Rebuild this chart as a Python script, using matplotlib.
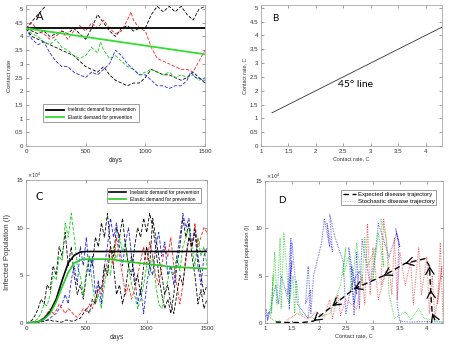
import numpy as np
import matplotlib
matplotlib.use("Agg")
import matplotlib.pyplot as plt

plt.rcParams['font.family'] = ['Liberation Sans', 'DejaVu Sans']

# ---- panel A: contact rate paths (days, contact rate)
a_black1_days = [0, 50, 100, 150, 200, 250]
a_black1 = [4.3, 4.55, 4.8, 5.05, 5.3, 5.5]
a_black2_days = [0, 50, 100, 150, 200, 250, 300, 350, 400, 450, 500, 550, 600, 650, 700, 750,
                 800, 850, 900, 950, 1000, 1050, 1100, 1150, 1200, 1250, 1300, 1350, 1400, 1450, 1500]
a_black2 = [4.3, 4.2, 4.1, 4.2, 4.0, 4.1, 4.2, 4.1, 4.3, 4.1, 3.9, 4.3, 4.8, 4.5, 4.2, 4.0,
            4.3, 4.4, 4.2, 4.3, 4.3, 4.8, 5.1, 4.9, 5.1, 4.9, 5.1, 4.8, 4.6, 5.0, 5.1]
a_black3_days = a_black2_days
a_black3 = [4.3, 4.0, 3.9, 3.8, 3.7, 3.6, 3.5, 3.4, 3.3, 3.1, 2.9, 2.8, 2.7, 2.9, 2.6, 2.4,
            2.3, 2.2, 2.3, 2.3, 2.5, 2.8, 2.7, 2.6, 2.6, 2.5, 2.4, 2.5, 2.7, 2.5, 2.3]
a_red_days = [0, 50, 100, 150, 200, 250, 300, 350, 400, 450, 500, 550, 600, 650, 700, 750, 800,
              850, 880, 900, 950, 1000, 1050, 1100, 1150, 1200, 1250, 1300, 1350, 1400, 1450, 1500]
a_red = [4.3, 4.5, 4.2, 4.1, 3.9, 4.0, 4.2, 3.9, 4.2, 4.4, 4.2, 4.5, 4.3, 4.6, 4.3, 4.1, 4.2,
         4.6, 4.9, 4.6, 4.3, 4.2, 3.6, 3.2, 3.1, 3.0, 2.9, 2.8, 2.8, 2.7, 3.1, 3.5]
a_green_days = [0, 50, 100, 150, 200, 250, 300, 350, 400, 450, 500, 550, 600, 625, 650, 700, 750,
                800, 850, 900, 950, 1000, 1050, 1100, 1150, 1200, 1250, 1300, 1350, 1400, 1450, 1500]
a_green = [4.3, 4.1, 4.0, 3.8, 3.7, 3.9, 3.6, 3.5, 3.3, 3.2, 3.3, 3.6, 3.4, 3.8, 3.5, 3.2, 3.3,
           3.1, 2.9, 2.8, 2.6, 2.7, 2.8, 2.7, 2.6, 2.7, 2.5, 2.6, 2.5, 2.6, 2.4, 2.5]
a_blue_days = [0, 50, 100, 150, 200, 250, 300, 350, 400, 450, 500, 550, 600, 650, 700, 750, 800,
               850, 900, 950, 1000, 1050, 1100, 1150, 1200, 1250, 1300, 1350, 1380, 1420, 1500]
a_blue = [4.3, 3.9, 3.7, 3.8, 3.4, 3.1, 2.9, 2.9, 2.7, 2.6, 2.5, 2.7, 2.6, 2.8, 3.0, 3.5, 3.3,
          3.0, 2.8, 2.6, 2.6, 2.4, 2.2, 2.2, 2.1, 2.2, 2.2, 2.4, 2.7, 2.5, 2.4]
inelastic_days = [0, 1500]
inelastic_c = [4.3, 4.3]
elastic_days = [0, 1500]
elastic_c = [4.3, 3.35]

# ---- panel B
b_line = [1.2, 4.3]

# ---- panel C: infected population (x 10^4)
c_days = list(range(0, 1501, 25))
c_black1 = [0, 0.1, 0.3, 0.8, 1.5, 2.5, 2, 4, 3.5, 6, 5, 8, 7, 9.5, 6, 8, 5, 3, 4, 2.5, 5,
            7, 6, 9, 8, 10.5, 9, 11.5, 8, 6, 3, 4, 2, 3.5, 6, 5, 8, 10, 9, 11, 9.5,
            11.5, 10, 8, 5, 3, 1.5, 2.5, 1, 3, 6, 8, 11, 9, 10.5, 7, 5, 2, 3.5, 1.5, 2.5]
c_black2 = [0, 0, 0, 0.1, 0.1, 0.2, 0.2, 0.3, 0.3, 0.2, 0.2, 0.1, 0.1, 0.3, 0.3, 0.2, 0.2, 0.4, 0.5, 1, 1.5,
            1, 2.5, 2, 4, 3.5, 6, 5, 8, 7, 10, 9, 11, 8, 6, 7, 4, 5, 3, 6, 8,
            6, 11, 9, 7, 5, 3, 4, 2, 1, 3, 5, 4, 7, 9, 8, 10, 7, 5, 3, 4]
c_green = [0, 0, 0, 0.2, 0.5, 1, 2, 1.8, 3, 5, 4.5, 7, 6.5, 10.5, 9, 11.5, 9, 6, 5, 3, 5.5,
           7, 4, 2, 3, 1.5, 4, 6, 5, 8, 6.5, 9, 7.5, 8.5, 6, 4, 3, 1.5, 2.5, 4, 6,
           5, 7, 4, 2, 1.5, 3, 4.5, 6, 5, 7, 5.5, 8, 9, 10, 8, 6, 9, 7, 8, 6]
c_blue = [0, 0, 0, 0, 0, 0.1, 0.2, 0.3, 0.5, 0.8, 1, 1.5, 2, 3, 2, 4.5, 6, 4, 8, 6, 9,
          5, 7, 3, 4.5, 2, 6, 8, 11, 9, 10.5, 8, 6, 8.5, 10, 7, 5, 2, 3.5, 1, 4,
          6, 5, 8, 9.5, 7, 8.5, 5, 6, 4, 7, 9, 11.5, 10, 11, 8, 9.5, 6, 4, 7, 8]
c_red = [0, 0, 0, 0, 0, 0.2, 0.5, 1, 1.5, 1, 1.3, 2, 1.5, 1, 1.5, 1.2, 0.8, 0.6, 1, 1.5, 1.2,
         2, 1.5, 2.5, 3.5, 3, 5, 6.5, 8, 6, 9, 7, 5, 3, 4, 2.5, 3.5, 5, 6.5, 8, 6,
         8.5, 7, 5, 4, 6, 8, 7, 9, 6, 4, 2, 4, 6.5, 9, 8, 10.5, 8, 9, 10, 9.5]
c_inelastic_days = [0, 100, 150, 200, 250, 300, 350, 400, 450, 500, 1500]
c_inelastic = [0, 0.1, 0.5, 1.2, 2.5, 4.5, 6.3, 7.1, 7.45, 7.5, 7.5]
c_elastic_days = [0, 100, 150, 200, 250, 300, 350, 400, 450, 500, 700, 800, 1000, 1200, 1350, 1500]
c_elastic = [0, 0.1, 0.4, 1.0, 2.2, 3.8, 5.3, 6.3, 6.6, 6.7, 6.7, 6.5, 6.2, 5.9, 5.8, 5.7]

# ---- panel D: (contact rate, infected x 10^4)
d_exp_c = [4.15, 4.1, 4.07, 4.05, 3.97, 3.6, 3.2, 2.65, 2.25, 1.9, 1.7, 1.45, 1.2]
d_exp_i = [0.3, 1.0, 3.5, 6.0, 6.8, 6.3, 5.0, 3.6, 1.8, 0.2, 0.05, 0.05, 0.1]
d_arrow_idx = [1, 2, 3, 5, 6, 7, 8, 9]
d_blue_c = [4.3, 4.0, 3.7, 3.5, 3.45, 3.48, 3.42, 3.5, 3.44, 3.3, 3.1, 3.05, 2.95, 2.8, 2.75,
            2.7, 2.65, 2.6, 2.7, 2.55, 2.65, 2.75, 2.6, 2.5, 2.45, 2.3, 2.2, 2.25, 2.15, 2.2,
            2.1, 2.05, 1.9, 1.85, 1.8, 1.75, 1.85, 1.8, 1.6, 1.5, 1.45, 1.48, 1.42, 1.5, 1.45,
            1.3, 1.25, 1.2, 1.1, 1.05, 1.02, 1.0, 1.08, 1.04]
d_blue_i = [0.1, 0.15, 0.1, 0.2, 2, 8.5, 10, 8, 9.5, 7, 10.5, 7.5, 4, 8.8, 1.5,
            7.5, 0.8, 6, 3, 8, 2, 5.5, 4, 1, 6.5, 9, 11.5, 7.5, 10.5, 8,
            11, 8.5, 5, 1, 6, 2, 3.5, 0.5, 2, 8.5, 1.5, 9, 3, 6.5, 2,
            5, 2, 4, 1.5, 0.3, 1.5, 0.5, 1.2, 0.2]
d_green_c = [4.3, 3.95, 3.85, 3.7, 3.6, 3.4, 3.3, 3.25, 3.15, 3.2, 3.1, 3.0, 3.05, 2.9, 2.85,
             2.8, 2.7, 2.6, 2.55, 2.45, 2.5, 2.4, 2.2, 1.9, 1.65, 1.58, 1.55, 1.52, 1.45, 1.35,
             1.3, 1.28, 1.22, 1.18, 1.12, 1.15, 1.1, 1.2, 1.3, 1.25]
d_green_i = [0.1, 0.5, 1.5, 0.3, 1.2, 0.5, 3, 9, 11, 6, 9.5, 4.5, 8, 6, 9,
             4, 8.5, 3.5, 7, 5, 8, 4, 1, 0.5, 1, 4.5, 1, 5, 2, 9.5,
             1.5, 9, 2, 7.5, 1, 5, 0.5, 0.2, 0.1, 0.4]
d_red_c = [4.3, 4.25, 4.2, 4.28, 4.15, 4.1, 4.05, 4.0, 3.9, 3.85, 3.75, 3.7, 3.6, 3.5, 3.45,
           3.4, 3.35, 3.3, 3.2, 3.15, 3.25, 3.1, 3.0, 2.95, 2.9, 2.85, 2.8, 2.7, 2.5, 2.4,
           2.35, 2.25, 2.2, 2.1, 1.95, 1.8, 1.6, 1.4]
d_red_i = [0.3, 8.5, 2, 6, 0.5, 5, 1, 7, 3, 8, 2, 6.5, 4, 7.5, 2.5,
           9, 3, 6, 11, 4, 5.5, 2.5, 8, 3, 10.5, 2, 5, 1.5, 2.5, 0.8,
           3, 0.5, 2.5, 0.6, 1.2, 0.4, 1, 0.3]

W, H = 455, 352
fig = plt.figure(figsize=(W / 100, H / 100), dpi=100)

def box(l, r, t, b):
    return [l / W, (H - b) / H, (r - l) / W, (b - t) / H]

def style(ax):
    ax.tick_params(direction='in', length=2, width=0.4, labelsize=4.4, pad=2,
                   top=True, right=True, colors='#555555', labelcolor='#333333')
    for s in ax.spines.values():
        s.set_linewidth(0.5)
        s.set_color('#999999')

dash = dict(lw=0.6, ls=(0, (4, 2)))
GREEN = '#11cc11'
LBL = dict(color='#333333', labelpad=2)
TAG = ['Lato', 'DejaVu Sans']

axA = fig.add_axes(box(26, 205, 5, 146))
axA.plot(a_black1_days, a_black1, color='k', **dash)
axA.plot(a_black2_days, a_black2, color='k', **dash)
axA.plot(a_black3_days, a_black3, color='k', **dash)
axA.plot(a_red_days, a_red, color='#ff2222', **dash)
axA.plot(a_green_days, a_green, color=GREEN, **dash)
axA.plot(a_blue_days, a_blue, color='#2222ee', **dash)
axA.plot(inelastic_days, inelastic_c, color='k', lw=1.3, label='Inelastic demand for prevention')
axA.plot(elastic_days, elastic_c, color='#33dd33', lw=1.3, label='Elastic demand for prevention')
axA.set_xlim(0, 1500)
axA.set_ylim(0, 5.15)
axA.set_xticks([0, 500, 1000, 1500])
axA.set_yticks(np.arange(0, 5.01, 0.5))
axA.set_yticklabels(['0', '0.5', '1', '1.5', '2', '2.5', '3', '3.5', '4', '4.5', '5'])
axA.set_xlabel('days', fontsize=4.7, **LBL)
axA.set_ylabel('Contact rate', fontsize=4.2, **LBL)
axA.text(111, 4.74, 'A', fontsize=8, ha='center', va='center', family=TAG)
axA.legend(loc='lower left', bbox_to_anchor=(0.08, 0.15), fontsize=3.4, frameon=True,
           fancybox=False, edgecolor='#555555', handlelength=4, borderpad=0.6,
           labelspacing=0.5).get_frame().set_linewidth(0.5)
style(axA)

axB = fig.add_axes(box(261, 442, 5, 146))
axB.plot(b_line, b_line, color='#333333', lw=0.6)
axB.set_xlim(1, 4.3)
axB.set_ylim(0, 5.1)
axB.set_xticks(np.arange(1, 4.01, 0.5))
axB.set_xticklabels(['1', '1.5', '2', '2.5', '3', '3.5', '4'])
axB.set_yticks(np.arange(0, 5.01, 0.5))
axB.set_yticklabels(['0', '0.5', '1', '1.5', '2', '2.5', '3', '3.5', '4', '4.5', '5'])
axB.set_xlabel('Contact rate, C', fontsize=3.9, **LBL)
axB.set_ylabel('Contact rate, C', fontsize=3.9, **LBL)
axB.text(1.26, 4.61, 'B', fontsize=7, ha='center', va='center', family=TAG)
axB.text(2.72, 2.21, '45° line', fontsize=7.5, ha='center', va='center', family=TAG)
style(axB)

axC = fig.add_axes(box(26, 207, 180, 323))
for vals, col in [(c_black1, 'k'), (c_green, GREEN), (c_blue, '#2222ee'),
                  (c_red, '#ff2222'), (c_black2, 'k')]:
    axC.plot(c_days, vals, color=col, **dash)
axC.plot(c_inelastic_days, c_inelastic, color='k', lw=1.2, label='Inelastic demand for prevention')
axC.plot(c_elastic_days, c_elastic, color='#22cc22', lw=1.2, label='Elastic demand for prevention')
axC.set_xlim(0, 1500)
axC.set_ylim(0, 15)
axC.set_xticks([0, 500, 1000, 1500])
axC.set_yticks([0, 5, 10, 15])
axC.set_xlabel('days', fontsize=4.9, **LBL)
axC.set_ylabel('Infected Population (I)', fontsize=5.6, color='#333333', labelpad=4)
axC.text(0.005, 1.0, r'$\times10^4$', transform=axC.transAxes, fontsize=3.5,
         va='bottom', color='#333333')
axC.text(111, 13.3, 'C', fontsize=8, ha='center', va='center', family=TAG)
axC.legend(loc='upper right', fontsize=3.5, frameon=True, fancybox=False,
           edgecolor='#555555', handlelength=3.5, borderpad=0.4,
           labelspacing=0.3, bbox_to_anchor=(0.98, 0.96)).get_frame().set_linewidth(0.5)
style(axC)

axD = fig.add_axes(box(265, 443, 181, 323))
dot = dict(lw=0.8, ls=(0, (0.5, 1.0)))
axD.plot(d_blue_c, d_blue_i, color='#3333ee', **dot)
axD.plot(d_green_c, d_green_i, color='#22cc22', **dot)
axD.plot(d_red_c, d_red_i, color='#ee4444', **dot)
axD.plot(d_exp_c, d_exp_i, color='k', lw=1.0, ls=(0, (4, 2.5)),
         label='Expected disease trajectory')
axD.plot([], [], color='#f08888', lw=0.6, ls=(0, (0.8, 1.2)),
         label='Stochastic disease trajectory')
for k in d_arrow_idx:
    x1, y1 = d_exp_c[k], d_exp_i[k]
    x0, y0 = d_exp_c[k - 1], d_exp_i[k - 1]
    f = 0.12
    axD.annotate('', xy=(x1, y1), xytext=(x1 + f * (x0 - x1), y1 + f * (y0 - y1)),
                 arrowprops=dict(arrowstyle='->,head_length=0.5,head_width=0.3',
                                 color='k', lw=0.9, shrinkA=0, shrinkB=0))
axD.set_xlim(1, 4.3)
axD.set_ylim(0, 15)
axD.set_xticks(np.arange(1, 4.01, 0.5))
axD.set_xticklabels(['1', '1.5', '2', '2.5', '3', '3.5', '4'])
axD.set_yticks([0, 5, 10, 15])
axD.set_xlabel('Contact rate, C', fontsize=4.1, **LBL)
axD.set_ylabel('Infected population (I)', fontsize=4.1, color='#333333', labelpad=4)
axD.text(0.005, 1.0, r'$\times10^4$', transform=axD.transAxes, fontsize=3.5,
         va='bottom', color='#333333')
axD.text(1.31, 12.9, 'D', fontsize=7, ha='center', va='center', family=TAG)
axD.legend(loc='upper right', fontsize=4.3, frameon=True, fancybox=False,
           edgecolor='#555555', handlelength=2.2, borderpad=0.3, handletextpad=0.3,
           labelspacing=0.3, bbox_to_anchor=(0.98, 0.96)).get_frame().set_linewidth(0.5)
style(axD)

fig.savefig('out.png', dpi=100)
